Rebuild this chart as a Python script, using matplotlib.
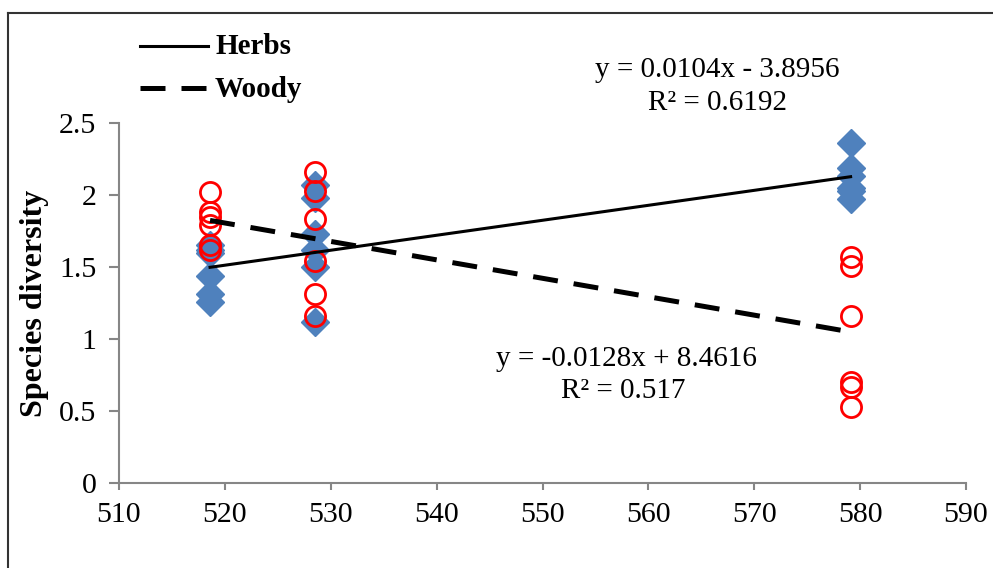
import matplotlib
matplotlib.use("Agg")
import matplotlib.pyplot as plt
from matplotlib.lines import Line2D
import numpy as np

plt.rcParams['font.family'] = ['Liberation Serif', 'DejaVu Serif']

# ---- data ----
elev_groups = [518.6, 528.5, 579.1]
herbs_g1 = [1.65, 1.62, 1.60, 1.44, 1.31, 1.26]
herbs_g2 = [2.07, 1.98, 1.73, 1.62, 1.50, 1.12]
herbs_g3 = [2.36, 2.19, 2.13, 2.05, 2.03, 1.97]
woody_g1 = [2.02, 1.88, 1.85, 1.79, 1.65, 1.62]
woody_g2 = [2.16, 2.03, 1.83, 1.54, 1.31, 1.16]
woody_g3 = [1.57, 1.51, 1.16, 0.70, 0.67, 0.53]
herbs_fit = (0.0104, -3.8956)
woody_fit = (-0.0128, 8.4616)
herbs_eq = ["y = 0.0104x - 3.8956", "R² = 0.6192"]
woody_eq = ["y = -0.0128x + 8.4616", "R² = 0.517"]
x_ticks = [510, 520, 530, 540, 550, 560, 570, 580, 590]
y_ticks = [0, 0.5, 1, 1.5, 2, 2.5]
y_tick_labels = ["0", "0.5", "1", "1.5", "2", "2.5"]

W, H = 993, 568
fig = plt.figure(figsize=(W / 100, H / 100), dpi=100)
ax = fig.add_axes([119 / W, 1 - 483 / H, (966 - 119) / W, (483 - 123) / H])

herbs_x, herbs_y, woody_x, woody_y = [], [], [], []
for xg, hg, wg in zip(elev_groups, [herbs_g1, herbs_g2, herbs_g3], [woody_g1, woody_g2, woody_g3]):
    herbs_x += [xg] * len(hg); herbs_y += hg
    woody_x += [xg] * len(wg); woody_y += wg

ax.plot(herbs_x, herbs_y, linestyle='none', marker='D', ms=14.5, color='#4F81BD',
        mec='#4F81BD', zorder=2, clip_on=False)
ax.plot(woody_x, woody_y, linestyle='none', marker='o', ms=14.5, mfc='none',
        mec='#FF0000', mew=2.0, zorder=3, clip_on=False)

xl = np.array([min(elev_groups), max(elev_groups)])
ax.plot(xl, herbs_fit[0] * xl + herbs_fit[1], color='black', lw=2.2, zorder=4)
ax.plot(xl, woody_fit[0] * xl + woody_fit[1], color='black', lw=3.6,
        dashes=(5, 3.2), zorder=4)

ax.set_xlim(510, 590)
ax.set_ylim(0, 2.5)
ax.set_xticks(x_ticks)
ax.set_yticks(y_ticks)
ax.set_yticklabels(y_tick_labels)
for s in ['top', 'right']:
    ax.spines[s].set_visible(False)
for s in ['left', 'bottom']:
    ax.spines[s].set_color('#868686')
    ax.spines[s].set_linewidth(1.5)
ax.tick_params(axis='both', colors='#868686', labelcolor='black',
               width=1.5, labelsize=21.5)
ax.tick_params(axis='x', length=5, pad=9)
ax.tick_params(axis='y', length=7.2, pad=9)

ax.set_ylabel("Species diversity", fontsize=23, fontweight='bold')
ax.yaxis.set_label_coords(-(119 - 49) / (966 - 119), 0.5)

fs_eq = 21
fig.text(717 / W, 1 - 70 / H, herbs_eq[0], ha='center', va='center', fontsize=fs_eq)
fig.text(717 / W, 1 - 103 / H, herbs_eq[1], ha='center', va='center', fontsize=fs_eq)
fig.text(626 / W, 1 - 359 / H, woody_eq[0], ha='center', va='center', fontsize=fs_eq)
fig.text(623 / W, 1 - 391 / H, woody_eq[1], ha='center', va='center', fontsize=fs_eq)

# legend (lines only)
fig.add_artist(Line2D([140 / W, 208 / W], [1 - 46 / H, 1 - 46 / H], color='black', lw=2.2))
fig.add_artist(Line2D([140 / W, 208 / W], [1 - 88 / H, 1 - 88 / H], color='black', lw=3.6,
                      dashes=(5, 3.2)))
fig.text(215 / W, 1 - 47 / H, "Herbs", fontsize=21, fontweight='bold', va='center', ha='left')
fig.text(215 / W, 1 - 89 / H, "Woody", fontsize=21, fontweight='bold', va='center', ha='left')

# outer frame
fig.add_artist(Line2D([8 / W, 8 / W], [0, 1 - 13 / H], color='#333333', lw=1.5))
fig.add_artist(Line2D([8 / W, 1], [1 - 13 / H, 1 - 13 / H], color='#333333', lw=1.5))

fig.savefig("out.png", dpi=100)
